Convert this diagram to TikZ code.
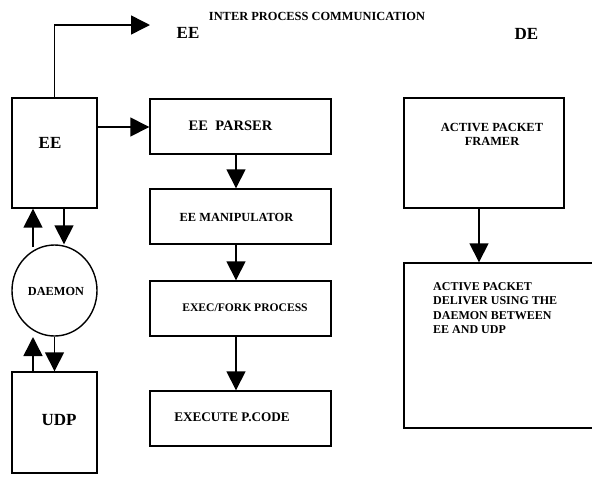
\documentclass[tikz,border=0pt]{standalone}
\usepackage{fontspec}
\setmainfont{Liberation Serif}
\usetikzlibrary{arrows.meta,shapes.geometric}
\newcommand\fsz[2]{\fontsize{#1}{#2}\selectfont}
\begin{document}
\begin{tikzpicture}[x=1pt,y=-1pt,
  box/.style={draw,line width=1.4pt,inner sep=0pt},
  arr/.style={line width=1.5pt,-{Triangle[length=19pt,width=19pt]}},
  lbl/.style={inner sep=0pt,font=\bfseries,align=center}]
\useasboundingbox (0,0) rectangle (592,483);
\clip (0,0) rectangle (592,483);
% boxes
\node[box,minimum width=85pt,minimum height=110pt] (ee) at (54.5,153) {};
\node[box,minimum width=181pt,minimum height=55pt] (parser) at (240.5,126.5) {};
\node[box,minimum width=181pt,minimum height=55pt] (manip) at (240.5,216.5) {};
\node[box,minimum width=181pt,minimum height=55pt] (exec) at (240.5,308.5) {};
\node[box,minimum width=181pt,minimum height=55pt] (execute) at (240.5,418.5) {};
\node[box,ellipse,minimum width=85pt,minimum height=91pt] (daemon) at (54.5,290.5) {};
\node[box,minimum width=85pt,minimum height=101pt] (udp) at (54.5,422.5) {};
\node[box,minimum width=160pt,minimum height=110pt] (framer) at (484,153) {};
\node[box,minimum width=190pt,minimum height=165pt] (deliver) at (499,345.5) {};
% texts
\node[lbl,font=\bfseries\fsz{12.4}{13}] (ipctxt) at (317,16.5) {INTER PROCESS COMMUNICATION};
\node[lbl,font=\bfseries\fsz{17}{18}] (eetop) at (188,33) {EE};
\node[lbl,font=\bfseries\fsz{17}{18}] (detop) at (526.5,33.5) {DE};
\node[lbl,font=\bfseries\fsz{17}{18}] (eetxt) at (50,143) {EE};
\node[lbl,font=\bfseries\fsz{14.5}{16}] (parsertxt) at (230.5,125.5) {EE\ \ PARSER};
\node[lbl,font=\bfseries\fsz{12.4}{14}] (maniptxt) at (236.5,217.5) {EE MANIPULATOR};
\node[lbl,font=\bfseries\fsz{12.3}{14}] (daemontxt) at (56,291) {DAEMON};
\node[lbl,font=\bfseries\fsz{11.6}{14}] (exectxt) at (245,308) {EXEC/FORK PROCESS};
\node[lbl,font=\bfseries\fsz{13.2}{15}] (executetxt) at (232,417) {EXECUTE P.CODE};
\node[lbl,font=\bfseries\fsz{17}{19}] (udptxt) at (59,420) {UDP};
\node[lbl,font=\bfseries\fsz{12.4}{14}] (framertxt) at (492,134) {ACTIVE PACKET\\FRAMER};
\node[lbl,align=left,anchor=north west,font=\bfseries\fsz{12}{14.6}] (delivertxt) at (433,282)
  {ACTIVE PACKET\\DELIVER USING THE\\DAEMON BETWEEN\\EE AND UDP};
% connectors
\coordinate (ipc) at (150,25);
\draw[arr] (ee.north) |- (ipc);
\draw[arr] (ee.east |- 0,127) -- (parser.west |- 0,127);
\draw[arr] (parser.south -| 236,0) -- (manip.north -| 236,0);
\draw[arr] (manip.south -| 236,0) -- (exec.north -| 236,0);
\draw[arr] (exec.south -| 236,0) -- (execute.north -| 236,0);
\draw[arr] (framer.south -| 479,0) -- (deliver.north -| 479,0);
\draw[arr] (ee.south -| 64,0) -- (daemon.north -| 64,0);
\coordinate (dup) at (33,247);
\draw[arr] (dup) -- (ee.south -| dup);
\draw[arr] (daemon.south) -- (udp.north);
\coordinate (uup) at (33,337);
\draw[arr] (udp.north -| uup) -- (uup);
\end{tikzpicture}
\end{document}
